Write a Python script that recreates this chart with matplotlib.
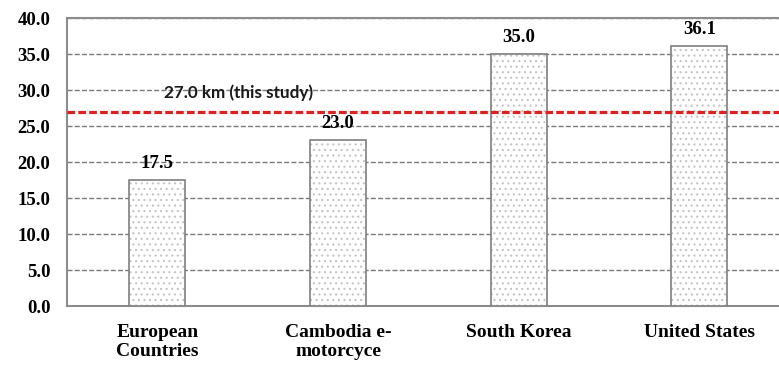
import numpy as np
import matplotlib
matplotlib.use("Agg")
import matplotlib.pyplot as plt

categories = ["European\nCountries", "Cambodia e-\nmotorcyce", "South Korea", "United States"]
distances = [17.5, 23.0, 35.0, 36.1]
this_study = 27.0
y_ticks = [0, 5, 10, 15, 20, 25, 30, 35, 40]

plt.rcParams['hatch.color'] = '#c4c4c4'
plt.rcParams['hatch.linewidth'] = 0.8

fig = plt.figure(figsize=(7.79, 3.65), dpi=100)
ax = fig.add_axes([0.086, 0.1616, 0.914, 0.789])

x = np.arange(len(categories))
# dotted fill, then the gray outline on top
ax.bar(x, distances, width=0.31, color='white', hatch='...', edgecolor='#c4c4c4',
       linewidth=0, zorder=3)
ax.bar(x, distances, width=0.31, fill=False, edgecolor='#7f7f7f', linewidth=1.2, zorder=4)

for xi, v in zip(x, distances):
    ax.annotate("{:.1f}".format(v), (xi, v), xytext=(0, 6), textcoords='offset points',
                ha='center', va='bottom', fontsize=13.5, fontweight='bold',
                family='Liberation Serif')

ax.axhline(this_study, color='#e0201e', linestyle=(0, (2.4, 1.0)), linewidth=2.3, zorder=5)
ax.text(0.45, 29.6, "27.0 km (this study)", ha='center', va='center', fontsize=12.3,
        family='Lato', fontweight='bold', color='#1a1a1a', zorder=6)

ax.set_ylim(0, 40)
ax.set_xlim(-0.5, 3.44)
ax.set_yticks(y_ticks, labels=["{:.1f}".format(t) for t in y_ticks])
ax.set_xticks(x, labels=categories)
for lab in ax.get_yticklabels():
    lab.set_family('Liberation Serif')
    lab.set_fontweight('bold')
    lab.set_fontsize(13.5)
for lab in ax.get_xticklabels():
    lab.set_family('Liberation Serif')
    lab.set_fontweight('bold')
    lab.set_fontsize(14)
    lab.set_linespacing(1.15)
ax.tick_params(axis='y', length=0, pad=12)
ax.tick_params(axis='x', length=0, pad=13)

ax.yaxis.grid(True, color='#7a7a7a', linestyle=(0, (3.6, 1.6)), linewidth=1.0, zorder=1)
ax.set_axisbelow(True)

for s in ['left', 'bottom', 'top']:
    ax.spines[s].set_color('#8c8c8c')
    ax.spines[s].set_linewidth(1.5)
ax.spines['right'].set_visible(False)

fig.savefig("out.png", dpi=100)
